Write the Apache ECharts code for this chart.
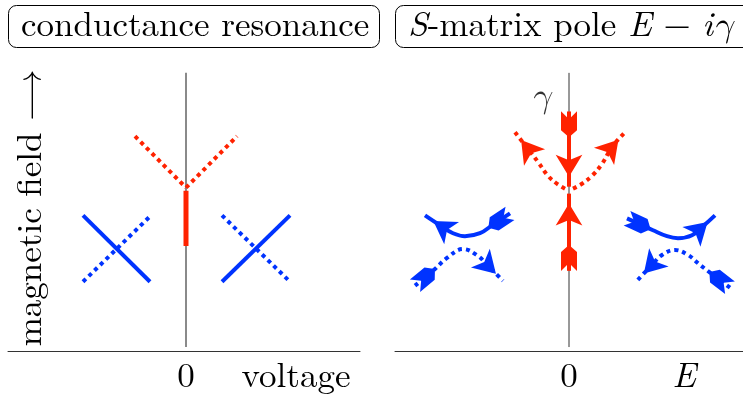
<!DOCTYPE html>
<html>
<head>
<meta charset="utf-8">
<script src="https://cdn.jsdelivr.net/npm/echarts@6/dist/echarts.min.js"></script>
<style>
  html, body { margin: 0; padding: 0; background: #fff; }
  #chart { width: 743px; height: 394px; }
</style>
</head>
<body>
<div id="chart"></div>
<script>
// ---- data (units: 1 = 50px on both axes so angles stay true) ----
const leftXTicks = [0, 2.2];
const leftXTickLabels = ['0', 'voltage'];
const rightXTicks = [0, 2.3];
const rightXTickLabels = ['0', '{i|E}'];

// left panel: conductance resonance
const leftSpine = [[0, 0.08], [0, 5.62]];
const leftRedDotL = [[-1.02, 4.34], [0, 3.3]];
const leftRedDotR = [[0, 3.3], [1.02, 4.34]];
const leftRedSolid = [[0, 3.24], [0, 2.12]];
const leftBlueSolidA = [[-2.06, 2.74], [-0.72, 1.4]];
const leftBlueDotA = [[-2.06, 1.4], [-0.7, 2.74]];
const leftBlueDotB = [[0.72, 2.74], [2.08, 1.4]];
const leftBlueSolidB = [[0.72, 1.4], [2.08, 2.74]];

// right panel: S-matrix pole (each path runs tail -> head)
const rightSpine = [[0, 0.08], [0, 5.62]];
const rightRedSolidTop = [[0, 4.84], [0, 3.32]];
const rightRedSolidBottom = [[0, 1.62], [0, 3.18]];
const rightRedDotL = [[-0.08, 3.28], [-0.24, 3.38], [-0.42, 3.54], [-0.62, 3.82], [-0.74, 3.98], [-1.08, 4.42]];
const rightRedDotR = [[0.08, 3.28], [0.26, 3.38], [0.46, 3.54], [0.66, 3.78], [0.86, 4.12], [1.12, 4.42]];
const rightBlueSolidL = [[-1.18, 2.78], [-1.54, 2.54], [-1.78, 2.38], [-2.08, 2.32], [-2.32, 2.38], [-2.58, 2.54], [-2.88, 2.74]];
const rightBlueDotL = [[-3.08, 1.32], [-2.72, 1.62], [-2.44, 1.88], [-2.12, 2.06], [-1.82, 1.92], [-1.62, 1.72], [-1.32, 1.42]];
const rightBlueSolidR = [[1.16, 2.68], [1.68, 2.44], [1.96, 2.32], [2.18, 2.28], [2.46, 2.34], [2.68, 2.52], [2.92, 2.74]];
const rightBlueDotR = [[3.22, 1.28], [2.62, 1.74], [2.38, 1.94], [2.12, 2.04], [1.86, 1.94], [1.66, 1.74], [1.36, 1.42]];
const gammaLabelPos = [[-0.56, 5.14]];

const RED = '#ff2200';
const BLUE = '#0033ff';
const FONT = '"Latin Modern Roman", "Latin Modern Math", "DejaVu Serif", serif';
const FS = 35;
const PX = 50; // px per unit
const TAIL = 'path://M0,0 L8,7 L8,26 L0,18 L-8,26 L-8,7 Z';

const chart = echarts.init(document.getElementById('chart'));

function dirDeg(a, b) {
  return Math.atan2(b[1] - a[1], b[0] - a[0]) * 180 / Math.PI;
}

// arrow head sitting on the last point, tail feather on the first
function headOf(path, len) {
  const a = path[path.length - 2], b = path[path.length - 1];
  const d = dirDeg(a, b) * Math.PI / 180;
  const back = (len / 2 - 1) / PX;
  return {value: [b[0] - Math.cos(d) * back, b[1] - Math.sin(d) * back], symbolRotate: dirDeg(a, b) - 90};
}
function tailOf(path, len) {
  const a = path[0], b = path[1];
  const d = dirDeg(a, b) * Math.PI / 180;
  const fwd = (len / 2) / PX;
  return {value: [a[0] + Math.cos(d) * fwd, a[1] + Math.sin(d) * fwd], symbolRotate: dirDeg(a, b) - 90};
}

function line(idx, data, color, width, dotted, smooth) {
  return {
    type: 'line', xAxisIndex: idx, yAxisIndex: idx, data: data,
    showSymbol: false, symbol: 'none', smooth: smooth ? 0.4 : false, silent: true,
    lineStyle: {color: color, width: width, type: dotted ? [4, 4] : 'solid', cap: 'butt'},
    z: 3
  };
}

function marks(idx, symbol, size, color, data) {
  return {
    type: 'scatter', xAxisIndex: idx, yAxisIndex: idx, symbol: symbol, symbolSize: size,
    itemStyle: {color: color, opacity: 1}, data: data, silent: true, z: 5
  };
}

const rightPaths = [
  {d: rightRedSolidTop, c: RED, dot: false, tail: true},
  {d: rightRedSolidBottom, c: RED, dot: false, tail: true},
  {d: rightRedDotL, c: RED, dot: true, tail: false},
  {d: rightRedDotR, c: RED, dot: true, tail: false},
  {d: rightBlueSolidL, c: BLUE, dot: false, tail: true},
  {d: rightBlueDotL, c: BLUE, dot: true, tail: true},
  {d: rightBlueSolidR, c: BLUE, dot: false, tail: true},
  {d: rightBlueDotR, c: BLUE, dot: true, tail: true}
];

const series = [
  line(0, leftSpine, '#8a8a8a', 2, false),
  line(0, leftRedDotL, RED, 4, true),
  line(0, leftRedDotR, RED, 4, true),
  line(0, leftRedSolid, RED, 5, false),
  line(0, leftBlueSolidA, BLUE, 4, false),
  line(0, leftBlueDotA, BLUE, 4, true),
  line(0, leftBlueDotB, BLUE, 4, true),
  line(0, leftBlueSolidB, BLUE, 4, false),
  line(1, rightSpine, '#333', 1, false)
];
rightPaths.forEach(p => series.push(line(1, p.d, p.c, 4, p.dot, p.d.length > 2)));
[RED, BLUE].forEach(c => {
  const ps = rightPaths.filter(p => p.c === c);
  series.push(marks(1, 'arrow', [20, 22], c, ps.map(p => headOf(p.d, 22))));
  series.push(marks(1, TAIL, [16, 26], c, ps.filter(p => p.tail).map(p => tailOf(p.d, 26))));
});
series.push({
  type: 'scatter', xAxisIndex: 1, yAxisIndex: 1, symbolSize: 0, data: gammaLabelPos, silent: true,
  label: {show: true, position: 'inside', formatter: 'γ', fontFamily: FONT, fontStyle: 'italic', fontSize: FS, color: '#000'}
});

function xAxis(idx, min, max, ticks, labels) {
  return {
    type: 'value', gridIndex: idx, min: min, max: max,
    axisLine: {show: true, onZero: false, lineStyle: {color: '#333', width: 1}},
    axisTick: {show: false}, splitLine: {show: false},
    axisLabel: {
      customValues: ticks, margin: 8, color: '#000', fontFamily: FONT, fontSize: FS,
      formatter: v => labels[ticks.indexOf(v)],
      rich: {i: {fontFamily: FONT, fontStyle: 'italic', fontSize: FS, color: '#000'}}
    }
  };
}
function yAxis(idx) {
  return {type: 'value', gridIndex: idx, min: 0, max: 5.88, show: false};
}

chart.setOption({
  backgroundColor: '#fff',
  animation: false,
  textStyle: {fontFamily: FONT},
  title: [
    {
      text: 'conductance resonance', left: 8, top: 5,
      padding: [3, 10, 5, 13], borderColor: '#000', borderWidth: 1, borderRadius: 8,
      textStyle: {fontFamily: FONT, fontWeight: 'normal', fontSize: FS, color: '#000'}
    },
    {
      text: '{i|S}-matrix pole {i|E} − {i|iγ}', left: 395, top: 5,
      padding: [3, 40, 5, 13], borderColor: '#000', borderWidth: 1, borderRadius: 8,
      textStyle: {
        fontFamily: FONT, fontWeight: 'normal', fontSize: FS, color: '#000',
        rich: {i: {fontFamily: FONT, fontStyle: 'italic', fontSize: FS, color: '#000'}}
      }
    }
  ],
  grid: [
    {left: 8, width: 352, top: 60, height: 294},
    {left: 395, width: 348, top: 60, height: 294}
  ],
  xAxis: [
    xAxis(0, -3.56, 3.48, leftXTicks, leftXTickLabels),
    xAxis(1, -3.48, 3.48, rightXTicks, rightXTickLabels)
  ],
  yAxis: [yAxis(0), yAxis(1)],
  graphic: [{
    type: 'text', x: 30, y: 208, rotation: Math.PI / 2,
    style: {text: 'magnetic field ⟶', font: 'normal ' + FS + 'px ' + FONT, fill: '#000', align: 'center', verticalAlign: 'middle'}
  }],
  series: series
});

window.addEventListener('resize', () => chart.resize());
</script>
</body>
</html>
